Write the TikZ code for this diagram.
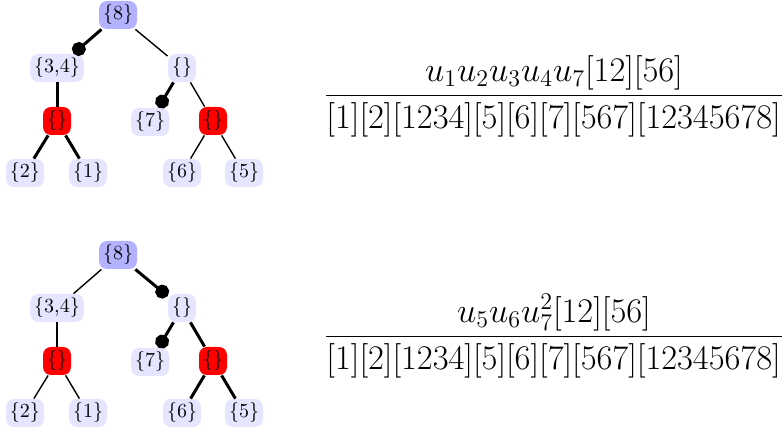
\documentclass[tikz,border=0pt]{standalone}
\usetikzlibrary{arrows.meta}
\begin{document}
\begin{tikzpicture}[x=0.5pt,y=-0.5pt,declare function={dy=240;},
	set/.style={fill=blue!10,rounded corners=4pt,inner sep=2pt},
	root/.style={set,fill=blue!30},
	hot/.style={set,fill=red},
	light/.style={line width=0.7pt},
	heavy/.style={line width=1.5pt},
	dot/.style={heavy,-{Circle[length=7pt]}}]
	\useasboundingbox (0,0) rectangle (782,431);
	%%% first tree
	\path (118,15) node[root] (rootA) {\{8\}};
	\path (57,68) node[set] (leftA) {\{3,4\}};
	\path (182,68) node[set] (rightA) {\{\}};
	\path (57,121) node[hot] (hotlA) {\{\}};
	\path (150,122) node[set] (sevenA) {\{7\}};
	\path (213,121) node[hot] (hotrA) {\{\}};
	\path (25,173) node[set] (twoA) {\{2\}};
	\path (88,173) node[set] (oneA) {\{1\}};
	\path (182,173) node[set] (sixA) {\{6\}};
	\path (244,173) node[set] (fiveA) {\{5\}};
	\draw[dot] (rootA)--(leftA);
	\draw[light] (rootA)--(rightA);
	\draw[heavy] (leftA)--(hotlA);
	\draw[heavy] (hotlA)--(twoA);
	\draw[heavy] (hotlA)--(oneA);
	\draw[dot] (rightA)--(sevenA);
	\draw[light] (rightA)--(hotrA);
	\draw[light] (hotrA)--(sixA);
	\draw[light] (hotrA)--(fiveA);
	\path (554,96) node (fracA) {\LARGE$\displaystyle\frac{u_1u_2u_3u_4u_7[12][56]}{[1][2][1234][5][6][7][567][12345678]}$};
	%%% second tree
	\path (118,15+dy) node[root] (rootB) {\{8\}};
	\path (57,68+dy) node[set] (leftB) {\{3,4\}};
	\path (182,68+dy) node[set] (rightB) {\{\}};
	\path (57,121+dy) node[hot] (hotlB) {\{\}};
	\path (150,122+dy) node[set] (sevenB) {\{7\}};
	\path (213,121+dy) node[hot] (hotrB) {\{\}};
	\path (25,173+dy) node[set] (twoB) {\{2\}};
	\path (88,173+dy) node[set] (oneB) {\{1\}};
	\path (182,173+dy) node[set] (sixB) {\{6\}};
	\path (244,173+dy) node[set] (fiveB) {\{5\}};
	\draw[light] (rootB)--(leftB);
	\draw[dot] (rootB)--(rightB);
	\draw[light] (leftB)--(hotlB);
	\draw[light] (hotlB)--(twoB);
	\draw[light] (hotlB)--(oneB);
	\draw[dot] (rightB)--(sevenB);
	\draw[heavy] (rightB)--(hotrB);
	\draw[heavy] (hotrB)--(sixB);
	\draw[heavy] (hotrB)--(fiveB);
	\path (554,96+dy) node (fracB) {\LARGE$\displaystyle\frac{u_5u_6u_7^2[12][56]}{[1][2][1234][5][6][7][567][12345678]}$};
\end{tikzpicture}
\end{document}
